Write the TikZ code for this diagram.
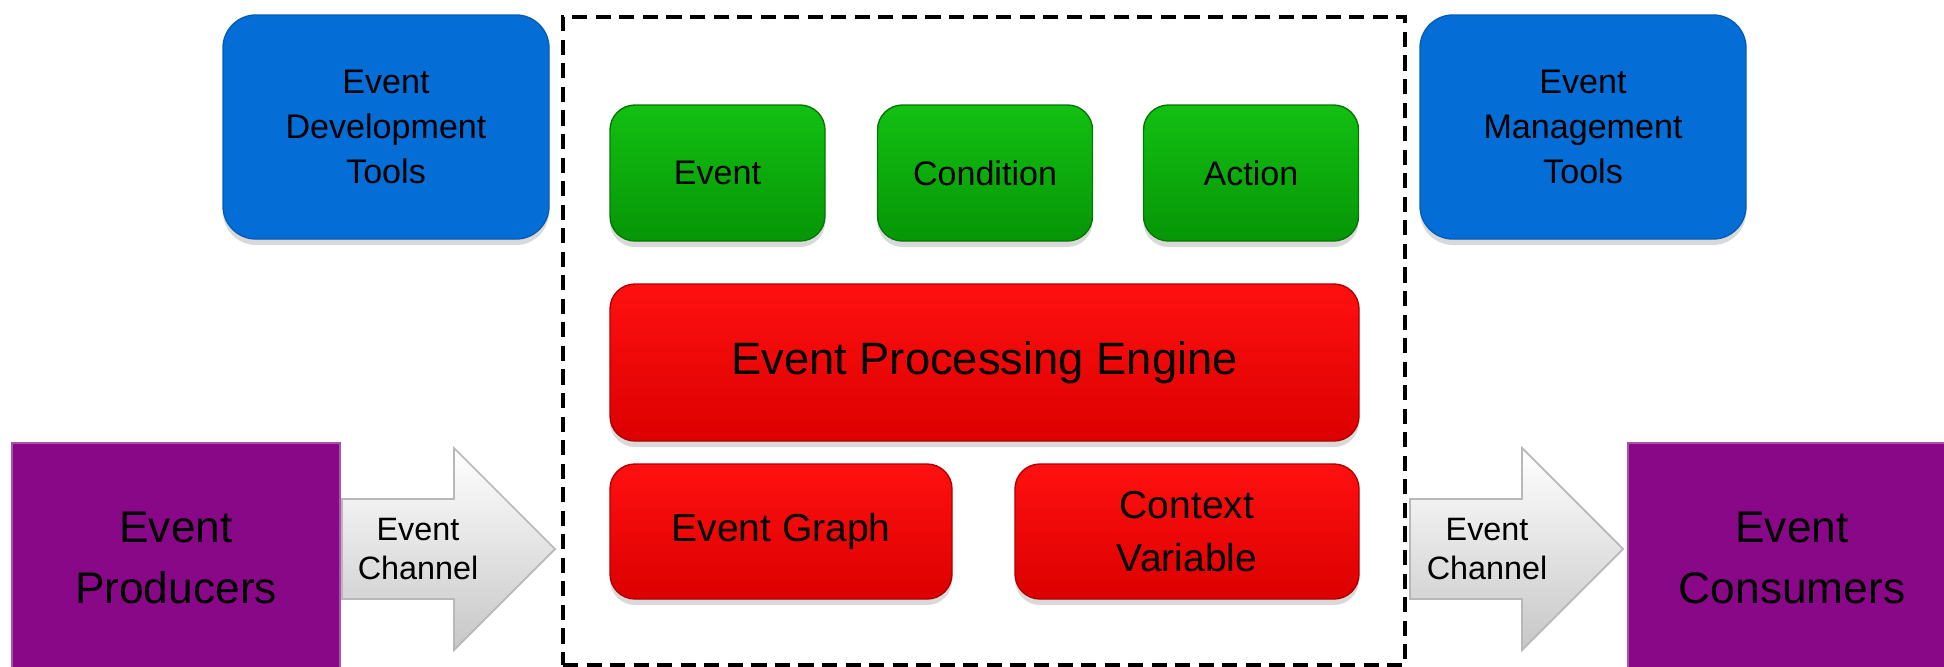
\documentclass[tikz,border=0pt]{standalone}
\usepackage{fontspec}
\setmainfont{Liberation Sans}
\usetikzlibrary{shadows}
\pgfdeclarelayer{nodelayer}
\pgfdeclarelayer{edgelayer}
\pgfsetlayers{edgelayer,nodelayer,main}
\definecolor{toolblue}{RGB}{5,110,214}
\definecolor{ruletop}{RGB}{18,192,18}
\definecolor{rulebot}{RGB}{6,150,6}
\definecolor{enginetop}{RGB}{255,16,16}
\definecolor{enginebot}{RGB}{220,0,0}
\definecolor{endpurple}{RGB}{137,8,135}
\tikzstyle{soft shadow}=[drop shadow={shadow xshift=0pt, shadow yshift=-0.06cm, opacity=0.3}]
\tikzstyle{tool box}=[shape=rectangle, rounded corners=0.33cm, fill=toolblue, draw=toolblue!85!black, minimum width=3.26cm, minimum height=2.24cm, align=center, font=\fontsize{9.7}{12.7}\selectfont, soft shadow]
\tikzstyle{rule box}=[shape=rectangle, rounded corners=0.25cm, top color=ruletop, bottom color=rulebot, draw=rulebot!80!black, minimum width=2.15cm, minimum height=1.36cm, align=center, font=\fontsize{9.7}{12.7}\selectfont, soft shadow]
\tikzstyle{engine box}=[shape=rectangle, rounded corners=0.25cm, top color=enginetop, bottom color=enginebot, draw=enginebot!80!black, minimum height=1.35cm, align=center, font=\fontsize{11.1}{15}\selectfont, soft shadow]
\tikzstyle{end box}=[shape=rectangle, fill=endpurple, draw=endpurple!70!white, line width=0.8pt, minimum width=3.28cm, minimum height=2.30cm, align=center, font=\fontsize{12.6}{17.2}\selectfont]
\tikzstyle{frame}=[shape=rectangle, draw=black, line width=1.4pt, dash pattern=on 4.3pt off 2.4pt, minimum width=8.42cm, minimum height=6.48cm]
\tikzstyle{channel arrow}=[top color=white, bottom color=black!22, draw=black!28, line width=0.5pt]
\tikzstyle{channel label}=[align=center, font=\fontsize{9.2}{10.9}\selectfont]

\begin{document}
\begin{tikzpicture}
    	\useasboundingbox (0, 0) rectangle (19.44, 6.66);
    	\begin{pgfonlayer}{nodelayer}
    		\node [style=tool box] (0) at (3.86, 5.39) {Event\\Development\\Tools};
    		\node [style=rule box] (1) at (7.175, 4.93) {Event};
    		\node [style=rule box] (2) at (9.85, 4.93) {Condition};
    		\node [style=rule box] (3) at (12.51, 4.93) {Action};
    		\node [style=tool box] (4) at (15.83, 5.39) {Event\\Management\\Tools};
    		\node [style=engine box, minimum width=7.49cm, minimum height=1.57cm, font=\fontsize{12.9}{16}\selectfont] (5) at (9.845, 3.035) {Event Processing Engine};
    		\node [style=engine box, minimum width=3.42cm] (6) at (7.81, 1.345) {Event Graph};
    		\node [style=engine box, minimum width=3.44cm] (7) at (11.87, 1.345) {Context\\Variable};
    		\node [style=end box] (8) at (1.76, 1.08) {Event\\Producers};
    		\node [style=end box] (9) at (17.92, 1.08) {Event\\Consumers};
    		\node [style=channel label] (11) at (4.18, 1.17) {Event\\Channel};
    		\node [style=channel label] (12) at (14.87, 1.17) {Event\\Channel};
    	\end{pgfonlayer}
    	\begin{pgfonlayer}{edgelayer}
    		\node [style=frame] (10) at (9.84, 3.25) {};
    		\filldraw [style=channel arrow] (3.42, 0.67) -- (4.54, 0.67) -- (4.54, 0.16) -- (5.55, 1.17) -- (4.54, 2.18) -- (4.54, 1.67) -- (3.42, 1.67) -- cycle;
    		\filldraw [style=channel arrow] (14.10, 0.67) -- (15.22, 0.67) -- (15.22, 0.16) -- (16.23, 1.17) -- (15.22, 2.18) -- (15.22, 1.67) -- (14.10, 1.67) -- cycle;
    	\end{pgfonlayer}
\end{tikzpicture}
\end{document}
